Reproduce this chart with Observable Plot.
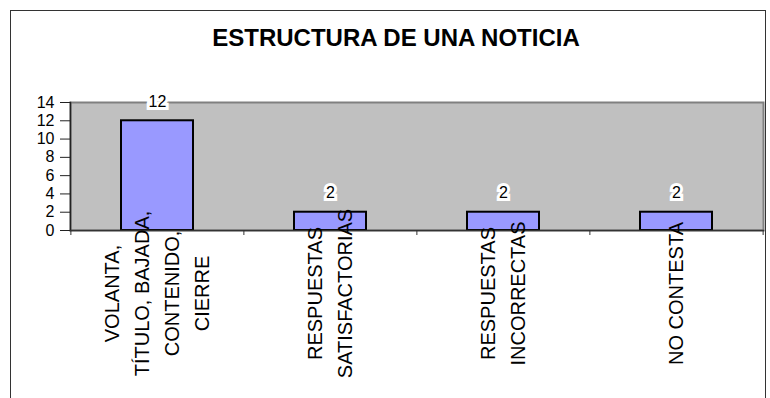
<!DOCTYPE html>
<html>
<head>
<meta charset="utf-8">
<script src="https://cdn.jsdelivr.net/npm/d3@7"></script>
<script src="https://cdn.jsdelivr.net/npm/@observablehq/plot@0.6"></script>
<style>
  html, body { margin: 0; padding: 0; background: white; }
  #wrap { position: relative; width: 770px; height: 398px; overflow: hidden; font-family: "Liberation Sans", Arial, sans-serif; }
  #frame { position: absolute; left: 10px; top: 10px; width: 754px; height: 400px;
           border-left: 1.5px solid #333; border-top: 1.5px solid #333; border-right: 1.5px solid #333; pointer-events: none; }
  #title { position: absolute; left: 396px; top: 26px; transform: translateX(-50%); white-space: nowrap;
           font-weight: bold; font-size: 24px; line-height: 24px; color: black; }
  #chart { position: absolute; left: 0; top: 0; }
</style>
</head>
<body>
<div id="wrap">
  <div id="chart"></div>
  <div id="frame"></div>
  <div id="title">ESTRUCTURA DE UNA NOTICIA</div>
</div>
<script>
const categories = [
  "VOLANTA,\nTÍTULO, BAJADA,\nCONTENIDO,\nCIERRE",
  "RESPUESTAS\nSATISFACTORIAS",
  "RESPUESTAS\nINCORRECTAS",
  "NO CONTESTA"
];
const values = [12, 2, 2, 2];
const yTicks = [0, 2, 4, 6, 8, 10, 12, 14];

const data = categories.map((c, i) => ({cat: c, value: values[i]}));

const W = 770, H = 398, mL = 70, mR = 7, mT = 102, mB = 168;
const step = (W - mL - mR) / categories.length;

const chart = Plot.plot({
  width: W, height: H,
  marginLeft: mL, marginRight: mR, marginTop: mT, marginBottom: mB,
  style: {fontFamily: '"Liberation Sans", Arial, sans-serif', fontSize: "16px", color: "black", background: "transparent", overflow: "visible"},
  x: {domain: categories, paddingInner: 0.585, paddingOuter: 0.2925, axis: null, label: null},
  y: {domain: [0, 14], axis: null, label: null},
  marks: [
    Plot.frame({fill: "#C0C0C0", stroke: "#808080", strokeWidth: 2}),
    Plot.barY(data, {x: "cat", y: "value", fill: "#9999FF", stroke: "black", strokeWidth: 2}),
    Plot.frame({anchor: "left", stroke: "#222", strokeWidth: 1.5}),
    Plot.frame({anchor: "bottom", stroke: "#333", strokeWidth: 1.5}),
    Plot.axisY({ticks: yTicks, label: null, tickSize: 10, tickPadding: 6, fontSize: 16, stroke: "#222", fill: "black", tickFormat: d => String(d)}),
    Plot.axisX({label: null, tickSize: 5, text: null, dx: -step / 2, stroke: "#333"}),
    Plot.axisX([categories[categories.length - 1]], {label: null, tickSize: 5, text: null, dx: step / 2, stroke: "#333"}),
    Plot.text(data, {x: "cat", y: "value", text: d => String(d.value), dy: -19, lineAnchor: "middle",
      fontSize: 16, fill: "black", stroke: "white", strokeWidth: 6, strokeLinejoin: "miter", paintOrder: "stroke"}),
    Plot.text(data, {x: "cat", text: "cat", frameAnchor: "bottom", rotate: -90, dy: 63, dx: -3,
      textAnchor: "middle", lineAnchor: "middle", lineHeight: 1.5, fontSize: 20, fill: "black"})
  ]
});
document.getElementById("chart").appendChild(chart);
</script>
</body>
</html>
